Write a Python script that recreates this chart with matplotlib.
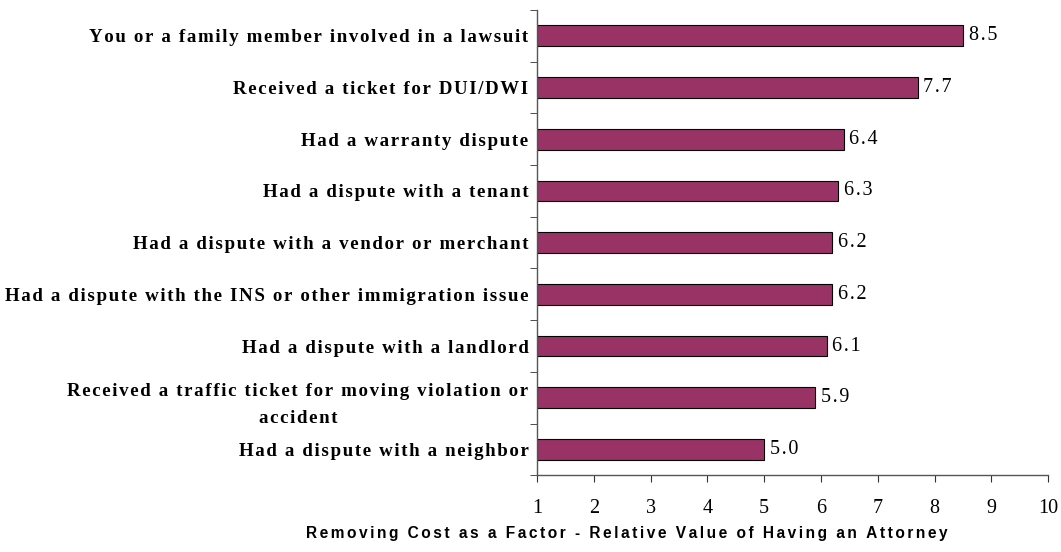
import matplotlib.pyplot as plt
import numpy as np

categories = [
    "You or a family member involved in a lawsuit",
    "Received a ticket for DUI/DWI",
    "Had a warranty dispute",
    "Had a dispute with a tenant",
    "Had a dispute with a vendor or merchant",
    "Had a dispute with the INS or other immigration issue",
    "Had a dispute with a landlord",
    "Received a traffic ticket for moving violation or\naccident",
    "Had a dispute with a neighbor",
]
values = [8.5, 7.7, 6.4, 6.3, 6.2, 6.2, 6.1, 5.9, 5.0]
x_ticks = list(range(1, 11))
x_title = "Removing Cost as a Factor - Relative Value of Having an Attorney"

BAR_COLOR = "#993366"
SERIF = "Liberation Serif"
SANS = "Liberation Sans"
HAIR = "\u200a"


def spaced(s, sep=HAIR):
    # poor man's letter spacing
    return "\n".join(sep.join(line) for line in s.split("\n"))


fig = plt.figure(figsize=(10.61, 5.52), dpi=100)
ax = fig.add_axes([0.506, 0.139, 0.482, 0.843])

n = len(categories)
y = np.arange(n)
ax.barh(y, [v - 1 for v in values], left=1, height=0.4,
        color=BAR_COLOR, edgecolor="black", linewidth=0.8)

for yi, v in zip(y, values):
    ax.text(v + 0.1, yi, spaced(f"{v:.1f}"), va="center", ha="left",
            fontsize=14.5, family=SERIF)

ax.set_xlim(1, 10)
ax.set_ylim(n - 0.5, -0.5)
ax.set_xticks(x_ticks)
ax.set_xticklabels([str(t) for t in x_ticks], fontsize=14.5, family=SERIF)

ax.set_yticks(y)
ax.set_yticklabels([spaced(c) for c in categories], fontsize=13.6,
                   family=SERIF, fontweight="bold")
for lab in ax.get_yticklabels():
    lab.set_multialignment("center")
    lab.set_linespacing(1.8)
ax.tick_params(axis="y", which="major", length=0, pad=6)
ax.set_yticks(np.arange(-0.5, n, 1.0), minor=True)
ax.tick_params(axis="y", which="minor", length=5, direction="out", color="#333333")
ax.tick_params(axis="x", length=5, direction="out", color="#333333", pad=12)

for side in ("top", "right"):
    ax.spines[side].set_visible(False)
for side in ("left", "bottom"):
    ax.spines[side].set_color("#555555")
    ax.spines[side].set_linewidth(1.0)

fig.text(627 / 1061, 0.033, spaced(x_title, HAIR * 2), ha="center", va="center",
         fontsize=11.2, family=SANS, fontweight="bold")

fig.savefig("out.png", dpi=100)
